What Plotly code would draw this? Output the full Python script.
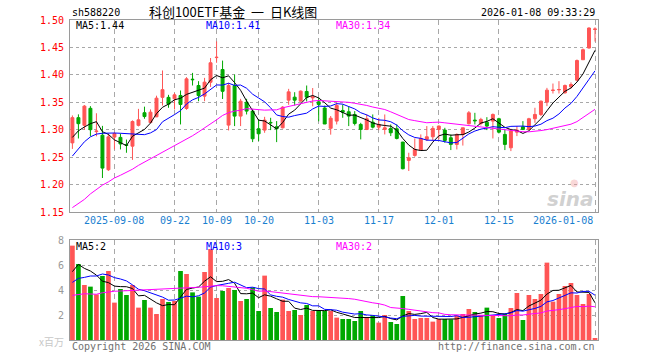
import plotly.graph_objects as go
import pandas as pd
import numpy as np

# ---------------- data ----------------
holidays = ["2025-10-01", "2025-10-02", "2025-10-03", "2025-10-06", "2025-10-07",
            "2025-10-08", "2026-01-01", "2026-01-02"]
dates = [d.strftime("%Y-%m-%d") for d in pd.bdate_range("2025-08-28", "2026-01-08")
         if d.strftime("%Y-%m-%d") not in holidays]

opens = [1.276, 1.322, 1.308, 1.339, 1.2965, 1.290, 1.227, 1.2865, 1.286, 1.2725,
         1.270, 1.308, 1.331, 1.313, 1.3235, 1.359, 1.359, 1.3563, 1.3624, 1.3387,
         1.3921, 1.3806, 1.3612, 1.3865, 1.4315, 1.4097, 1.3084, 1.3806, 1.3248, 1.3502,
         1.3339, 1.3017, 1.2993, 1.3133, 1.3053, 1.3035, 1.3539, 1.3593, 1.3521, 1.3697,
         1.358, 1.3508, 1.3396, 1.3026, 1.3157, 1.3351, 1.3327, 1.3278, 1.3096, 1.3005,
         1.3138, 1.3047, 1.3005, 1.3023, 1.3017, 1.2774, 1.2441, 1.2532, 1.2629, 1.2823,
         1.2871, 1.3005, 1.2993, 1.2853, 1.2732, 1.2914, 1.3108, 1.3175, 1.3114, 1.3138,
         1.3157, 1.320, 1.2914, 1.2671, 1.2956, 1.3053, 1.3005, 1.320, 1.3278, 1.3502,
         1.3715, 1.3727, 1.3672, 1.3782, 1.3903, 1.4276, 1.4489, 1.4828]
highs = [1.326, 1.328, 1.345, 1.343, 1.330, 1.307, 1.293, 1.296, 1.293, 1.282,
         1.317, 1.338, 1.342, 1.337, 1.362, 1.408, 1.3636, 1.367, 1.3715, 1.3958,
         1.4036, 1.3885, 1.3945, 1.4307, 1.461, 1.426, 1.3854, 1.4006, 1.3563, 1.3563,
         1.3381, 1.3187, 1.3235, 1.3217, 1.3157, 1.343, 1.3745, 1.3684, 1.3715, 1.3806,
         1.376, 1.359, 1.344, 1.325, 1.349, 1.346, 1.343, 1.3339, 1.3126, 1.3278,
         1.3278, 1.3217, 1.3278, 1.3096, 1.3096, 1.278, 1.258, 1.2841, 1.2914, 1.3066,
         1.3066, 1.3078, 1.3035, 1.2914, 1.2932, 1.3035, 1.334, 1.3308, 1.3217, 1.3229,
         1.3296, 1.3217, 1.3005, 1.3017, 1.3066, 1.3157, 1.3217, 1.340, 1.3533, 1.3763,
         1.3842, 1.3885, 1.3824, 1.3863, 1.428, 1.448, 1.4865, 1.4867]
lows = [1.265, 1.284, 1.300, 1.288, 1.288, 1.212, 1.225, 1.264, 1.264, 1.258,
        1.245, 1.306, 1.320, 1.312, 1.323, 1.344, 1.340, 1.337, 1.3096, 1.3363,
        1.3806, 1.352, 1.352, 1.378, 1.422, 1.356, 1.2987, 1.3066, 1.3066, 1.3278,
        1.2774, 1.2793, 1.2944, 1.2993, 1.2774, 1.3023, 1.3454, 1.3442, 1.3515, 1.3515,
        1.3427, 1.3153, 1.3104, 1.291, 1.3096, 1.3217, 1.3066, 1.3078, 1.2823, 1.2993,
        1.3023, 1.2993, 1.2914, 1.2884, 1.2823, 1.2277, 1.2247, 1.2507, 1.2625, 1.2793,
        1.2793, 1.2823, 1.2762, 1.2629, 1.264, 1.2711, 1.3096, 1.3096, 1.3078, 1.2993,
        1.2841, 1.2932, 1.2629, 1.261, 1.2884, 1.2993, 1.2993, 1.3126, 1.325, 1.343,
        1.366, 1.366, 1.366, 1.375, 1.3885, 1.4276, 1.4479, 1.4607]
closes = [1.322, 1.311, 1.343, 1.300, 1.2975, 1.230, 1.287, 1.293, 1.274, 1.2714,
          1.315, 1.318, 1.324, 1.332, 1.3575, 1.373, 1.3466, 1.3636, 1.346, 1.3927,
          1.3912, 1.3624, 1.3867, 1.422, 1.432, 1.370, 1.3806, 1.3248, 1.352, 1.3339,
          1.2835, 1.2926, 1.3175, 1.3126, 1.3017, 1.3411, 1.369, 1.3539, 1.3703, 1.3593,
          1.360, 1.346, 1.3104, 1.321, 1.3442, 1.332, 1.3248, 1.3114, 1.3005, 1.320,
          1.3047, 1.3096, 1.3035, 1.2944, 1.2841, 1.2289, 1.2489, 1.2641, 1.2841, 1.2871,
          1.3023, 1.3066, 1.2805, 1.2732, 1.2914, 1.3035, 1.3308, 1.3163, 1.3187, 1.3066,
          1.3278, 1.2956, 1.2732, 1.2975, 1.2993, 1.3005, 1.320, 1.3278, 1.352, 1.3721,
          1.3721, 1.3733, 1.3806, 1.3824, 1.4261, 1.4458, 1.4854, 1.4835]
volumes = [7.55, 6.08, 4.40, 4.27, 3.65, 5.12, 5.52, 2.99, 4.08, 3.60,
           4.40, 2.59, 3.20, 2.59, 2.08, 3.28, 3.04, 3.12, 5.52, 5.28,
           3.81, 3.47, 5.44, 7.28, 3.36, 3.92, 4.16, 4.00, 3.12, 3.28,
           4.21, 2.32, 5.15, 2.56, 2.24, 3.23, 2.32, 2.40, 2.00, 2.80,
           2.32, 2.32, 2.32, 2.32, 1.79, 1.68, 1.68, 1.52, 2.32, 1.79,
           1.95, 1.39, 2.00, 1.44, 1.28, 3.52, 2.32, 1.68, 1.76, 1.76,
           1.47, 1.68, 1.68, 1.65, 1.95, 2.08, 2.48, 2.24, 2.00, 2.59,
           2.00, 1.76, 2.08, 2.56, 3.76, 1.60, 3.60, 3.28, 3.68, 6.19,
           3.07, 3.68, 4.32, 4.56, 3.60, 2.88, 3.68, 0.16]

# moving-average values before enough history is visible
ma5_head = [1.286, 1.298, 1.305, 1.311]
ma10_head = [1.252, 1.266, 1.278, 1.287, 1.292, 1.2935, 1.294, 1.294, 1.2935]
ma30_head = [1.158, 1.165, 1.173, 1.183, 1.191, 1.199, 1.205, 1.212, 1.217, 1.222,
             1.228, 1.235, 1.241, 1.247, 1.252, 1.259, 1.264, 1.270, 1.276, 1.2835,
             1.289, 1.296, 1.303, 1.311, 1.318, 1.326, 1.331, 1.334, 1.3355]
vma5_head = [5.47, 6.05, 5.73, 5.52]
vma10_head = [4.61, 4.93, 5.01, 5.12, 5.12, 5.28, 5.20, 4.99, 4.88]
vma30_head = [3.57, 3.65, 3.70, 3.68, 3.66, 3.78, 3.86, 3.90, 3.92, 3.94,
              3.96, 3.97, 3.98, 4.00, 4.03, 4.06, 4.09, 4.11, 4.13, 4.15,
              4.18, 4.22, 4.26, 4.33, 4.35, 4.34, 4.30, 4.25, 4.20]

tick_dates = ["2025-09-08", "2025-09-22", "2025-10-09", "2025-10-20", "2025-11-03",
              "2025-11-17", "2025-12-01", "2025-12-15", "2026-01-08"]
tick_labels = ["2025-09-08", "09-22", "10-09", "10-20", "11-03",
               "11-17", "12-01", "12-15", "2026-01-08"]
price_ticks = [1.15, 1.20, 1.25, 1.30, 1.35, 1.40, 1.45, 1.50]
vol_ticks = [2, 4, 6, 8]


def moving_avg(values, n, head):
    s = pd.Series(values, dtype=float).rolling(n).mean().to_numpy()
    s[:n - 1] = head
    return s


# ---------------- figure ----------------
W, H = 660, 360
RED, GREEN = "#ff5555", "#00a800"
MONO = "DejaVu Sans Mono"
GRID = "#a8a8a8"
FRAME = "#9a9a9a"
XL, XR = 70, 598


def px(x):
    return x / W


def py(y):
    return 1 - y / H


idx = list(range(len(dates)))
tickpos = [dates.index(d) for d in tick_dates]
up = [c >= o for o, c in zip(opens, closes)]

fig = go.Figure()
fig.add_trace(go.Candlestick(
    x=idx, open=opens, high=highs, low=lows, close=closes,
    increasing=dict(line=dict(color=RED, width=1), fillcolor=RED),
    decreasing=dict(line=dict(color=GREEN, width=1), fillcolor=GREEN),
    whiskerwidth=0, xaxis="x", yaxis="y", showlegend=False))

for n, head, col in [(5, ma5_head, "#000000"), (10, ma10_head, "#0000ff"),
                     (30, ma30_head, "#ff00ff")]:
    fig.add_trace(go.Scatter(x=idx, y=moving_avg(closes, n, head), mode="lines",
                             line=dict(color=col, width=1), xaxis="x", yaxis="y",
                             showlegend=False))

fig.add_trace(go.Bar(x=idx, y=volumes, width=0.78,
                     marker=dict(color=[RED if u else GREEN for u in up], line=dict(width=0)),
                     xaxis="x2", yaxis="y2", showlegend=False))
for n, head, col in [(5, vma5_head, "#000000"), (10, vma10_head, "#0000ff"),
                     (30, vma30_head, "#ff00ff")]:
    fig.add_trace(go.Scatter(x=idx, y=moving_avg(volumes, n, head), mode="lines",
                             line=dict(color=col, width=1), xaxis="x2", yaxis="y2",
                             showlegend=False))

xcommon = dict(range=[-0.4, len(idx) - 0.5], domain=[px(XL), px(XR)],
               tickvals=tickpos, showticklabels=False, ticks="",
               showgrid=True, gridcolor=GRID, griddash="5px,4px", gridwidth=1,
               showline=True, mirror=True, linecolor=FRAME, linewidth=1,
               zeroline=False, fixedrange=True, automargin=False)

annotations = []


def txt(x, y, s, color, size=10, anchor="left", font=MONO, xref="paper", **kw):
    annotations.append(dict(x=x, y=y, xref=xref, yref="paper", text=s, showarrow=False,
                            xanchor=anchor, yanchor="middle",
                            font=dict(family=font, size=size, color=color), **kw))


# header
txt(px(70), py(13), "sh588220", "#000000")
txt(px(233), py(12), "科创100ETF基金\u00a0\u00a0一\u00a0\u00a0日K线图", "#000000", size=13,
    anchor="center", font="Noto Sans CJK SC")
txt(px(597), py(12.5), "2026-01-08 09:33:29", "#000000", anchor="right")

# price MA labels
txt(px(74), py(26), "MA5:1.44", "#000000")
txt(px(204), py(26), "MA10:1.41", "#0000ff")
txt(px(334), py(26), "MA30:1.34", "#ff00ff")

# volume MA labels
txt(px(74), py(246), "MA5:2", "#000000")
txt(px(204), py(246), "MA10:3", "#0000ff")
txt(px(334), py(246), "MA30:2", "#ff00ff")

# x tick labels
for i, (p, lab) in enumerate(zip(tickpos, tick_labels)):
    txt(p, py(220.5), lab, "#1a80d0", anchor="right" if i == len(tickpos) - 1 else "center",
        xref="x")

# footer
txt(px(66), py(341), "x百万", "#c8c8c8", size=10, anchor="right", font="Noto Sans CJK SC")
txt(px(70), py(346), "Copyright 2026 SINA.COM", "#707070")
txt(px(597), py(346), "http://finance.sina.com.cn", "#707070", anchor="right")

# watermark
txt(px(570), py(199), "sina", "rgba(170,170,170,0.55)", size=20, anchor="center",
    font="DejaVu Sans")
annotations[-1]["font"].update(weight="bold", style="italic")
txt(px(574), py(182), "●", "rgba(240,150,150,0.40)", size=10, anchor="center",
    font="DejaVu Sans")

fig.update_layout(
    template="none",
    width=W, height=H, autosize=False,
    margin=dict(l=0, r=0, t=0, b=0, pad=0, autoexpand=False),
    paper_bgcolor="white", plot_bgcolor="white",
    boxgap=0.3,
    hovermode=False,
    xaxis=dict(anchor="y", rangeslider=dict(visible=False), **xcommon),
    xaxis2=dict(anchor="y2", matches="x", **xcommon),
    yaxis=dict(domain=[py(212), py(20)], range=[1.15, 1.50], tickvals=price_ticks,
               tickformat=".2f", ticks="", ticklabelstandoff=3, automargin=False,
               tickfont=dict(family=MONO, size=10, color="#ff0000"),
               showgrid=True, gridcolor=GRID, griddash="dot", gridwidth=1,
               showline=True, mirror=True, linecolor=FRAME, linewidth=1,
               zeroline=False, fixedrange=True),
    yaxis2=dict(domain=[py(340), py(240)], range=[0, 8], tickvals=vol_ticks,
                ticks="", ticklabelstandoff=3, automargin=False,
                tickfont=dict(family=MONO, size=10, color="#999999"),
                showgrid=True, gridcolor=GRID, griddash="dot", gridwidth=1,
                showline=True, mirror=True, linecolor=FRAME, linewidth=1,
                zeroline=False, fixedrange=True),
    annotations=annotations,
    showlegend=False,
)

fig.write_html("out.html", config={"displayModeBar": False},
               post_script="document.body.style.margin='0';")
